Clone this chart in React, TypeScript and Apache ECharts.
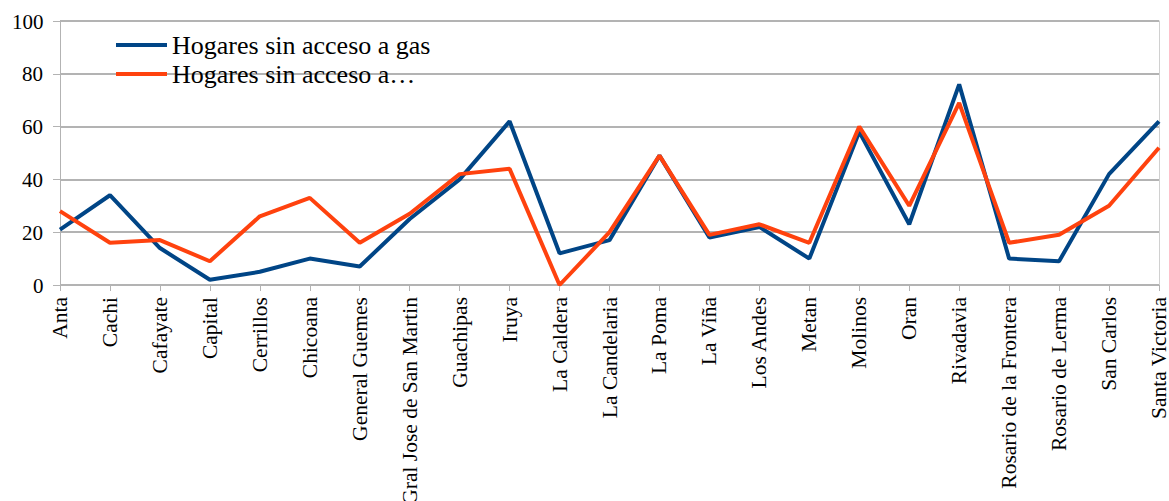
import React, { useEffect, useRef } from "react";
import * as echarts from "echarts";

const categories = [
  "Anta", "Cachi", "Cafayate", "Capital", "Cerrillos", "Chicoana", "General Guemes",
  "Gral Jose de San Martin", "Guachipas", "Iruya", "La Caldera", "La Candelaria",
  "La Poma", "La Viña", "Los Andes", "Metan", "Molinos", "Oran", "Rivadavia",
  "Rosario de la Frontera", "Rosario de Lerma", "San Carlos", "Santa Victoria",
];

const sinGas = [21, 34, 14, 2, 5, 10, 7, 25, 40, 62, 12, 17, 49, 18, 22, 10, 58, 23, 76, 10, 9, 42, 62];
const sinOtro = [28, 16, 17, 9, 26, 33, 16, 27, 42, 44, 0, 20, 49, 19, 23, 16, 60, 30, 69, 16, 19, 30, 52];

const seriesNames = ["Hogares sin acceso a gas", "Hogares sin acceso a…"];
const seriesColors = ["#004586", "#ff420e"];
const yTickLabels = [0, 20, 40, 60, 80, 100];

const FONT = "Liberation Serif";
const GRAY = "#b3b3b3";

function measure(text: string, size: number): number {
  const c = document.createElement("canvas").getContext("2d");
  if (!c) return text.length * size * 0.5;
  c.font = size + "px " + FONT;
  return c.measureText(text).width;
}

export default function App() {
  const ref = useRef<HTMLDivElement>(null);
  useEffect(() => {
    if (!ref.current) return;
    const chart = echarts.init(ref.current, undefined, { renderer: "svg" });
    chart.setOption({
      animation: false,
      backgroundColor: "#ffffff",
      textStyle: { fontFamily: FONT, color: "#000" },
      grid: { left: 60, right: 10, top: 21, bottom: 216, containLabel: false, outerBoundsMode: "none" },
      legend: { show: false, data: seriesNames },
      xAxis: {
        type: "category",
        data: categories,
        boundaryGap: false,
        axisLine: { show: true, lineStyle: { color: GRAY, width: 1 } },
        axisTick: { show: true, length: 6, alignWithLabel: true, lineStyle: { color: GRAY } },
        axisLabel: {
          rotate: 90,
          interval: 0,
          margin: 12,
          fontFamily: FONT,
          fontSize: 21.5,
          color: "#000",
        },
        splitLine: { show: false },
      },
      yAxis: [
        {
          type: "value",
          min: yTickLabels[0],
          max: yTickLabels[yTickLabels.length - 1],
          interval: yTickLabels[1] - yTickLabels[0],
          axisLine: { show: true, lineStyle: { color: GRAY, width: 1 } },
          axisTick: { show: true, length: 7, lineStyle: { color: GRAY } },
          axisLabel: { show: false },
          splitLine: { show: true, lineStyle: { color: GRAY, width: 2 } },
        },
        {
          type: "value",
          position: "right",
          min: yTickLabels[0],
          max: yTickLabels[yTickLabels.length - 1],
          interval: yTickLabels[1] - yTickLabels[0],
          axisLine: { show: true, lineStyle: { color: "#d0d0d0", width: 1 } },
          axisTick: { show: false },
          axisLabel: { show: false },
          splitLine: { show: false },
        },
      ],
      series: [
        {
          name: seriesNames[0],
          type: "line",
          data: sinGas,
          showSymbol: false,
          symbol: "none",
          lineStyle: { color: seriesColors[0], width: 4 },
          itemStyle: { color: seriesColors[0] },
          z: 2,
        },
        {
          name: seriesNames[1],
          type: "line",
          data: sinOtro,
          showSymbol: false,
          symbol: "none",
          lineStyle: { color: seriesColors[1], width: 4 },
          itemStyle: { color: seriesColors[1] },
          z: 3,
        },
      ],
    });

    // y-axis tick labels placed through the axis' own scale
    const axisX = chart.convertToPixel({ xAxisIndex: 0 }, categories[0]) as number;
    const Y_SIZE = 21;
    const yLabelGraphics = yTickLabels.map((v) => {
      const t = String(v);
      const py = chart.convertToPixel({ yAxisIndex: 0 }, v) as number;
      return {
        type: "text",
        left: Math.round(axisX - 17 - measure(t, Y_SIZE)),
        top: Math.round(py - Y_SIZE / 2),
        silent: true,
        style: { text: t, fontFamily: FONT, fontSize: Y_SIZE, fill: "#000" },
      };
    });

    // legend
    const L_SIZE = 26;
    const legendGraphics: any[] = [];
    seriesNames.forEach((name, i) => {
      const cy = 45 + i * 29;
      legendGraphics.push({
        type: "rect",
        left: 116,
        top: cy - 2,
        silent: true,
        shape: { width: 51, height: 4 },
        style: { fill: seriesColors[i] },
      });
      legendGraphics.push({
        type: "text",
        left: 172,
        top: cy - L_SIZE / 2,
        silent: true,
        style: { text: name, fontFamily: FONT, fontSize: L_SIZE, fill: "#000" },
      });
    });

    chart.setOption({ graphic: [...yLabelGraphics, ...legendGraphics] });
    return () => chart.dispose();
  }, []);
  return <div ref={ref} style={{ width: 1169, height: 501, position: "absolute", left: 0, top: 0 }} />;
}
